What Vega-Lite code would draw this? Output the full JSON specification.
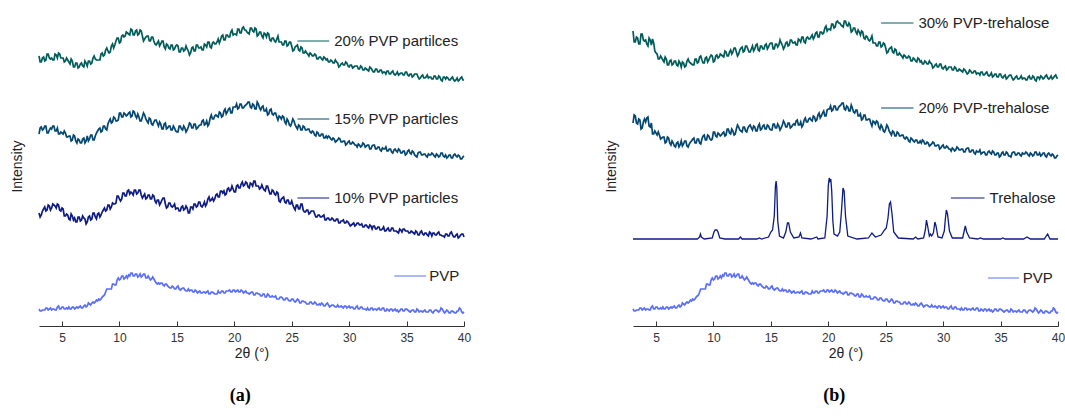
{
"$schema": "https://vega.github.io/schema/vega-lite/v6.json",
"padding": {"left": 10, "top": 6, "right": 0, "bottom": 5},
"spacing": 133,
"config": {"view": {"stroke": null}, "font": "Liberation Sans"},
"datasets": {
"amorph": [{
"x": [3,3.1,3.2,3.3,3.4,3.5,3.6,3.7,3.8,3.9,4,4.1,4.2,4.3,4.4,4.5,4.6,4.7,4.8,4.9,5,5.1,5.2,5.3,5.4,5.5,5.6,5.7,5.8,5.9,6,6.1,6.2,6.3,6.4,6.5,6.6,6.7,6.8,6.9,7,7.1,7.2,7.3,7.4,7.5,7.6,7.7,7.8,7.9,8,8.1,8.2,8.3,8.4,8.5,8.6,8.7,8.8,8.9,9,9.1,9.2,9.3,9.4,9.5,9.6,9.7,9.8,9.9,10,10.1,10.2,10.3,10.4,10.5,10.6,10.7,10.8,10.9,11,11.1,11.2,11.3,11.4,11.5,11.6,11.7,11.8,11.9,12,12.1,12.2,12.3,12.4,12.5,12.6,12.7,12.8,12.9,13,13.1,13.2,13.3,13.4,13.5,13.6,13.7,13.8,13.9,14,14.1,14.2,14.3,14.4,14.5,14.6,14.7,14.8,14.9,15,15.1,15.2,15.3,15.4,15.5,15.6,15.7,15.8,15.9,16,16.1,16.2,16.3,16.4,16.5,16.6,16.7,16.8,16.9,17,17.1,17.2,17.3,17.4,17.5,17.6,17.7,17.8,17.9,18,18.1,18.2,18.3,18.4,18.5,18.6,18.7,18.8,18.9,19,19.1,19.2,19.3,19.4,19.5,19.6,19.7,19.8,19.9,20,20.1,20.2,20.3,20.4,20.5,20.6,20.7,20.8,20.9,21,21.1,21.2,21.3,21.4,21.5,21.6,21.7,21.8,21.9,22,22.1,22.2,22.3,22.4,22.5,22.6,22.7,22.8,22.9,23,23.1,23.2,23.3,23.4,23.5,23.6,23.7,23.8,23.9,24,24.1,24.2,24.3,24.4,24.5,24.6,24.7,24.8,24.9,25,25.1,25.2,25.3,25.4,25.5,25.6,25.7,25.8,25.9,26,26.1,26.2,26.3,26.4,26.5,26.6,26.7,26.8,26.9,27,27.1,27.2,27.3,27.4,27.5,27.6,27.7,27.8,27.9,28,28.1,28.2,28.3,28.4,28.5,28.6,28.7,28.8,28.9,29,29.1,29.2,29.3,29.4,29.5,29.6,29.7,29.8,29.9,30,30.1,30.2,30.3,30.4,30.5,30.6,30.7,30.8,30.9,31,31.1,31.2,31.3,31.4,31.5,31.6,31.7,31.8,31.9,32,32.1,32.2,32.3,32.4,32.5,32.6,32.7,32.8,32.9,33,33.1,33.2,33.3,33.4,33.5,33.6,33.7,33.8,33.9,34,34.1,34.2,34.3,34.4,34.5,34.6,34.7,34.8,34.9,35,35.1,35.2,35.3,35.4,35.5,35.6,35.7,35.8,35.9,36,36.1,36.2,36.3,36.4,36.5,36.6,36.7,36.8,36.9,37,37.1,37.2,37.3,37.4,37.5,37.6,37.7,37.8,37.9,38,38.1,38.2,38.3,38.4,38.5,38.6,38.7,38.8,38.9,39,39.1,39.2,39.3,39.4,39.5,39.6,39.7,39.8,39.9,40],
"A20": [270,264,264,268,269,265,266,272,272,268,267,268,266,266,272,271,268,273,272,268,268,268,264,265,268,266,264,262,267,265,259,259,263,263,258,259,262,263,260,259,265,263,260,265,265,262,263,268,270,267,266,266,266,266,272,273,270,271,276,278,275,273,274,280,282,278,281,285,288,288,283,284,290,291,289,290,294,293,292,291,297,296,291,291,295,296,291,292,296,295,290,285,287,289,290,290,285,285,289,289,285,282,281,283,285,280,282,285,285,279,277,282,281,278,277,281,281,276,277,280,281,280,274,274,278,278,275,276,280,277,275,271,273,278,279,275,275,281,281,278,278,279,276,276,282,281,279,284,284,279,278,283,284,282,282,284,287,283,286,290,291,286,286,291,291,289,289,294,296,291,292,292,291,297,297,293,293,298,299,296,296,294,293,292,298,298,295,294,298,297,290,291,294,294,290,288,293,292,289,293,292,286,285,288,288,285,284,287,290,284,284,284,281,281,285,285,280,281,284,284,280,275,276,279,280,281,276,275,279,278,273,273,275,273,272,270,273,272,270,270,272,271,267,267,269,269,267,266,269,268,266,267,264,264,266,265,263,263,266,264,263,259,260,262,263,261,261,264,263,260,259,261,261,258,259,260,260,260,257,257,260,259,256,256,258,257,256,255,259,258,256,254,254,257,257,254,254,256,256,253,254,254,252,255,255,252,252,254,255,252,251,252,254,251,252,253,253,251,251,254,254,251,250,252,252,249,250,252,252,252,249,247,248,250,251,248,248,249,251,248,249,249,247,247,250,250,247,247,250,249,246,245,249,249,247,249,248,246,246,248,249,246,245,246,248,245,246,248,249,246,246],
"A15": [192,198,199,196,197,200,200,193,193,196,198,197,200,200,195,195,198,192,192,194,193,192,195,193,189,189,190,190,185,186,191,190,185,183,187,186,183,183,187,188,183,185,190,185,187,191,191,186,186,190,193,195,197,198,194,195,200,200,197,196,202,205,207,203,204,209,208,205,205,206,213,213,209,209,213,212,210,211,213,214,209,210,215,214,210,208,212,209,205,205,209,213,211,207,205,203,208,207,202,201,204,206,206,203,200,204,202,197,197,202,203,197,198,200,200,196,196,200,198,195,194,194,200,200,197,196,200,198,194,196,199,203,202,198,198,202,202,197,198,200,201,201,205,206,201,202,205,200,202,208,211,207,207,210,211,210,209,214,213,209,210,215,217,212,214,217,218,213,213,219,219,219,222,217,218,222,222,218,218,220,221,222,224,224,219,218,222,221,217,217,224,222,218,216,219,220,215,215,217,211,212,216,217,212,211,213,213,209,206,210,209,207,210,209,204,202,207,205,201,200,203,207,205,201,199,197,201,200,196,196,200,199,196,196,197,197,194,193,195,194,191,190,194,193,190,190,192,192,188,188,190,188,190,189,187,186,188,187,184,185,186,188,187,184,184,185,185,181,182,184,185,182,182,184,183,181,181,179,182,181,179,180,183,182,179,180,181,181,177,177,180,181,181,177,177,179,179,176,175,178,177,177,179,175,175,177,177,174,173,176,177,175,174,177,176,173,173,175,175,171,172,175,176,173,172,175,174,171,170,169,173,174,174,171,171,172,172,170,169,172,171,171,173,172,170,169,172,171,169,170,173,173,170,169,171,168,169,171,171,168,168,171,172,170,169,171,170,167,167,169,170],
"A10": [113,109,111,115,117,119,115,116,121,120,116,118,122,121,120,118,122,121,116,115,118,117,110,110,112,111,107,106,112,110,106,108,104,104,109,109,105,106,110,108,107,102,104,109,110,106,107,113,113,109,107,112,113,109,111,114,116,118,115,116,121,121,117,119,123,122,122,123,130,130,127,125,127,133,133,130,130,135,136,132,134,133,131,136,136,132,133,136,136,131,128,130,132,127,128,131,131,127,127,131,130,125,123,126,126,121,123,126,128,128,122,118,119,123,123,120,119,120,122,117,118,118,115,115,119,120,116,117,120,118,113,113,119,119,117,122,122,119,120,124,124,120,119,121,124,120,122,127,129,125,126,128,125,127,131,132,129,129,135,135,133,135,131,132,137,138,135,136,140,137,134,134,140,141,138,138,142,144,140,141,144,143,139,138,143,142,140,145,145,140,140,140,137,138,141,138,136,135,140,140,136,132,132,136,135,132,131,134,133,125,124,127,128,129,124,123,126,126,122,122,125,121,118,116,121,121,117,117,122,122,116,114,114,116,116,112,113,115,115,115,112,109,109,111,111,109,109,110,111,106,106,108,108,106,106,108,107,105,105,107,107,103,103,105,105,106,103,103,105,104,102,100,101,102,103,100,101,103,103,101,101,102,99,99,101,101,99,98,101,100,97,100,100,97,97,99,99,96,96,97,99,95,95,97,98,95,95,98,98,95,95,95,94,93,97,96,94,97,97,95,95,95,93,93,95,94,93,92,95,94,91,91,94,95,92,91,93,93,91,90,94,93,90,93,93,91,91,93,94,91,91,90,90,89,92,92,90,90,93,94,91,89,89,91,92,88,89,91,92,92,89],
"PVP": [17,15,15,16,16,16,18,18,16,17,18,16,17,17,16,16,19,20,17,17,19,19,17,17,18,17,19,17,17,19,19,17,18,19,18,19,20,18,18,20,21,19,20,23,22,21,23,24,23,24,26,25,27,26,27,29,30,31,34,37,37,37,37,37,42,42,41,41,46,48,46,47,50,50,47,48,50,48,51,50,53,53,50,50,52,52,49,50,52,49,50,52,52,48,48,50,48,46,47,49,47,45,43,42,43,42,43,43,41,40,42,42,40,39,38,38,40,39,37,37,39,40,37,36,37,38,38,36,35,35,37,35,36,36,34,34,36,35,33,34,35,33,33,34,34,33,34,35,32,32,34,34,33,32,32,32,35,33,33,35,35,33,33,35,35,35,36,34,34,36,36,34,35,36,34,34,36,35,33,34,35,33,33,32,33,34,34,31,31,33,33,32,32,30,30,32,32,29,29,32,31,29,29,30,29,29,30,27,27,27,29,29,28,26,26,28,28,26,25,25,27,27,25,24,25,27,26,23,23,25,25,24,24,22,22,22,24,24,22,22,24,23,21,21,22,21,23,22,20,20,22,23,21,19,20,21,21,20,19,19,21,19,19,20,19,18,20,20,18,19,20,18,19,19,17,17,19,20,17,17,19,19,17,17,17,16,18,16,16,18,18,16,17,17,16,17,18,16,16,18,18,15,15,17,16,15,17,17,15,16,17,15,16,14,15,17,17,15,15,17,17,16,15,14,15,16,16,14,14,17,16,14,15,15,14,15,16,14,14,14,16,16,14,13,15,16,16,15,14,15,18,17,15,13,14,16,15,13,13,15,15,14,13,13,15,15,18,17,14,13,14],
"B30": [295,284,284,289,288,282,282,292,292,286,285,286,282,280,288,286,281,287,283,275,273,272,267,267,270,268,266,264,269,267,261,261,265,266,261,262,265,265,261,260,265,263,259,264,263,259,260,265,267,264,263,262,261,261,267,267,263,264,269,270,266,263,263,268,269,264,266,269,271,270,264,265,270,271,268,269,272,271,270,269,275,274,270,270,274,276,272,274,278,278,274,270,272,276,278,279,274,275,280,280,277,274,274,277,280,275,277,281,282,276,275,280,280,277,277,281,282,277,279,282,283,283,277,277,282,282,279,281,286,283,281,277,279,283,284,280,281,286,286,283,283,284,281,281,287,286,284,289,289,284,283,288,289,287,287,289,291,287,289,293,294,289,289,294,294,292,293,298,300,295,297,297,296,302,302,298,299,304,305,303,303,301,300,299,305,305,301,300,303,301,294,295,298,298,294,292,296,294,291,295,294,288,287,290,289,286,285,287,290,283,283,283,280,280,284,284,279,280,283,282,278,273,274,277,278,279,274,273,277,276,271,271,273,271,270,268,271,270,268,268,270,269,265,265,268,267,265,264,268,267,264,265,262,262,265,264,262,262,265,263,262,258,259,261,262,259,259,262,262,258,257,259,260,256,257,259,259,259,256,256,259,258,255,255,257,256,255,254,257,256,254,252,253,256,255,253,253,255,255,252,253,253,251,254,254,251,251,253,254,251,250,251,253,249,250,252,252,249,249,252,252,249,248,250,251,247,248,250,251,251,248,246,247,249,250,247,247,248,250,247,248,248,246,246,249,250,247,247,250,249,246,245,249,249,247,250,249,247,248,250,251,248,247,248,250,247,248,250,251,248,248],
"B20": [203,211,210,203,202,207,206,197,198,204,207,204,208,209,200,199,203,192,192,195,193,191,194,191,187,188,189,189,183,184,189,188,183,181,185,183,180,179,183,184,179,181,185,180,182,185,185,180,179,182,184,185,187,188,183,183,187,187,183,182,187,190,191,186,186,191,190,187,186,187,194,194,190,189,193,192,190,191,193,194,190,191,197,197,193,192,197,195,191,192,197,201,199,196,195,194,199,199,195,194,198,200,201,198,196,200,199,195,195,200,202,196,197,200,201,197,197,201,200,197,196,196,202,202,198,198,202,200,196,198,201,205,203,199,199,203,203,198,199,201,202,201,205,206,201,201,204,199,201,206,208,204,204,207,208,206,205,210,209,205,206,211,213,208,210,213,215,210,210,216,217,217,220,215,216,220,220,216,216,219,220,221,223,223,217,216,220,219,215,215,221,218,214,213,216,216,210,210,212,206,207,211,211,206,206,207,207,203,200,205,204,202,205,204,199,197,201,199,195,194,197,201,199,195,193,191,195,194,190,190,194,193,190,190,191,191,188,187,189,188,185,184,188,187,185,184,186,186,183,183,185,183,186,185,182,182,184,183,180,181,182,184,183,180,180,181,181,177,178,180,181,178,178,180,179,177,177,175,178,177,175,176,179,178,176,176,177,177,174,174,177,178,178,174,174,176,176,173,172,175,174,174,176,172,173,174,174,171,171,174,175,173,172,175,174,171,171,173,173,169,170,173,174,171,171,174,173,170,170,169,173,174,174,171,171,173,173,171,170,173,172,172,174,173,171,170,173,172,170,171,174,174,171,171,173,170,171,173,173,170,169,172,173,171,170,172,171,168,168,170,171]
}],
"treh": [{
"series": "Treh",
"x": [3,5,7,8.6,8.8,8.87,8.95,9.2,9.9,10.05,10.15,10.3,10.4,10.55,11,12.2,12.35,12.5,13.8,14,14.2,14.8,15,15.15,15.3,15.4,15.46,15.52,15.6,15.75,16.1,16.3,16.45,16.55,16.7,17,17.45,17.58,17.7,18.5,19,19.1,19.7,19.9,20,20.08,20.15,20.22,20.3,20.4,20.5,20.8,21,21.15,21.28,21.38,21.5,21.7,22.5,23.5,23.8,24.1,24.6,24.9,25.05,25.2,25.32,25.42,25.55,25.7,25.9,26.1,27.4,27.6,27.8,28.3,28.45,28.55,28.65,28.8,28.9,29,29.15,29.28,29.38,29.55,29.9,30.1,30.2,30.28,30.38,30.55,30.8,31.7,31.85,31.93,32.05,32.3,33,33.25,33.5,35,35.2,35.4,37,37.3,37.6,38.8,39.1,39.3,40],
"y": [87,87,87,87,89,92,89,87,88,94,96,96,94,88,87,87,89,87,87,88,87,89,94,96,110,140,145,138,105,90,88,94,103,103,94,88,89,93,88,87,89,87,88,110,140,148,145,147,135,105,92,90,94,115,138,135,110,90,87,88,93,89,91,96,98,108,122,124,112,94,91,88,87,89,87,88,96,106,100,90,92,90,93,104,100,89,88,95,108,116,112,95,88,88,96,100,94,88,87,88,87,87,88,87,87,89,87,87,92,87,87]
}],
"labels": [
{"panel": "a", "series": "A20", "label": "20% PVP partilces", "x": 25.5, "x2": 28.27, "tx": 28.7, "y": 285},
{"panel": "a", "series": "A15", "label": "15% PVP particles", "x": 25.5, "x2": 28.27, "tx": 28.7, "y": 207},
{"panel": "a", "series": "A10", "label": "10% PVP particles", "x": 25.5, "x2": 28.27, "tx": 28.7, "y": 128},
{"panel": "a", "series": "PVP", "label": "PVP", "x": 33.93, "x2": 36.7, "tx": 36.97, "y": 50},
{"panel": "b", "series": "B30", "label": "30% PVP-trehalose", "x": 24.6, "x2": 27.42, "tx": 27.85, "y": 303},
{"panel": "b", "series": "B20", "label": "20% PVP-trehalose", "x": 24.6, "x2": 27.42, "tx": 27.85, "y": 218},
{"panel": "b", "series": "Treh", "label": "Trehalose", "x": 30.68, "x2": 33.6, "tx": 34.04, "y": 128},
{"panel": "b", "series": "PVP", "label": "PVP", "x": 33.9, "x2": 36.6, "tx": 36.94, "y": 48}
]
},
"hconcat": [
{
"width": 425, "height": 320,
"title": {"text": "(a)", "orient": "bottom", "anchor": "middle", "frame": "bounds", "font": "Liberation Serif", "fontSize": 18, "fontWeight": "bold", "color": "#000", "offset": 27},
"layer": [
{
"data": {"name": "amorph"},
"transform": [{"flatten": ["x", "A20", "A15", "A10", "PVP"]}, {"fold": ["A20", "A15", "A10", "PVP"], "as": ["series", "y"]}],
"mark": {"type": "line", "strokeWidth": 1.7},
"encoding": {
"x": {"field": "x", "type": "quantitative", "title": "2θ (°)", "scale": {"domain": [3, 40], "nice": false, "zero": false},
"axis": {"values": [5,7.5,10,12.5,15,17.5,20,22.5,25,27.5,30,32.5,35,37.5,40], "format": "d", "labelExpr": "datum.value % 5 === 0 ? datum.label : ''", "tickSize": {"condition": {"test": "datum.value % 5 === 0", "value": -5}, "value": -3}, "labelPadding": 11, "grid": false, "domainColor": "#333", "tickColor": "#333", "labelFontSize": 12, "labelColor": "#333", "labelFont": "Liberation Sans", "titleFont": "Liberation Sans", "titleFontSize": 14, "titleFontWeight": "normal", "titleColor": "#222", "titlePadding": 3, "labelOverlap": false, "labelFlush": false}},
"y": {"field": "y", "type": "quantitative", "title": "Intensity", "scale": {"domain": [0, 320], "nice": false, "zero": false},
"axis": {"labels": false, "ticks": false, "domain": false, "grid": false, "titleFont": "Liberation Sans", "titleFontSize": 14, "titleFontWeight": "normal", "titleColor": "#222", "titlePadding": 15}},
"color": {"field": "series", "type": "nominal", "legend": null, "scale": {"domain": ["A20","A15","A10","PVP","B30","B20","Treh"], "range": ["#005c5a","#034670","#0d1b82","#5a6ef8","#005c5a","#034670","#0d1b82"]}}
}
},
{
"data": {"name": "labels"},
"transform": [{"filter": "datum.panel === 'a'"}],
"mark": {"type": "rule", "strokeWidth": 1},
"encoding": {
"x": {"field": "x", "type": "quantitative", "title": "2θ (°)"},
"x2": {"field": "x2"},
"y": {"field": "y", "type": "quantitative", "title": "Intensity"},
"color": {"field": "series", "type": "nominal", "legend": null}
}
},
{
"data": {"name": "labels"},
"transform": [{"filter": "datum.panel === 'a'"}],
"mark": {"type": "text", "align": "left", "baseline": "middle", "fontSize": 15, "font": "Liberation Sans", "color": "#222"},
"encoding": {
"x": {"field": "tx", "type": "quantitative", "title": "2θ (°)"},
"y": {"field": "y", "type": "quantitative", "title": "Intensity"},
"text": {"field": "label"}
}
}
]
},
{
"width": 425, "height": 320,
"title": {"text": "(b)", "orient": "bottom", "anchor": "middle", "frame": "bounds", "font": "Liberation Serif", "fontSize": 18, "fontWeight": "bold", "color": "#000", "offset": 27},
"layer": [
{
"data": {"name": "amorph"},
"transform": [{"flatten": ["x", "B30", "B20", "PVP"]}, {"fold": ["B30", "B20", "PVP"], "as": ["series", "y"]}],
"mark": {"type": "line", "strokeWidth": 1.7},
"encoding": {
"x": {"field": "x", "type": "quantitative", "title": "2θ (°)", "scale": {"domain": [3, 40], "nice": false, "zero": false},
"axis": {"values": [5,7.5,10,12.5,15,17.5,20,22.5,25,27.5,30,32.5,35,37.5,40], "format": "d", "labelExpr": "datum.value % 5 === 0 ? datum.label : ''", "tickSize": {"condition": {"test": "datum.value % 5 === 0", "value": -5}, "value": -3}, "labelPadding": 11, "grid": false, "domainColor": "#333", "tickColor": "#333", "labelFontSize": 12, "labelColor": "#333", "labelFont": "Liberation Sans", "titleFont": "Liberation Sans", "titleFontSize": 14, "titleFontWeight": "normal", "titleColor": "#222", "titlePadding": 3, "labelOverlap": false, "labelFlush": false}},
"y": {"field": "y", "type": "quantitative", "title": "Intensity", "scale": {"domain": [0, 320], "nice": false, "zero": false},
"axis": {"labels": false, "ticks": false, "domain": false, "grid": false, "titleFont": "Liberation Sans", "titleFontSize": 14, "titleFontWeight": "normal", "titleColor": "#222", "titlePadding": 15}},
"color": {"field": "series", "type": "nominal", "legend": null, "scale": {"domain": ["A20","A15","A10","PVP","B30","B20","Treh"], "range": ["#005c5a","#034670","#0d1b82","#5a6ef8","#005c5a","#034670","#0d1b82"]}}
}
},
{
"data": {"name": "treh"},
"transform": [{"flatten": ["x", "y"]}],
"mark": {"type": "line", "strokeWidth": 1.3},
"encoding": {
"x": {"field": "x", "type": "quantitative", "title": "2θ (°)"},
"y": {"field": "y", "type": "quantitative", "title": "Intensity"},
"color": {"field": "series", "type": "nominal", "legend": null}
}
},
{
"data": {"name": "labels"},
"transform": [{"filter": "datum.panel === 'b'"}],
"mark": {"type": "rule", "strokeWidth": 1},
"encoding": {
"x": {"field": "x", "type": "quantitative", "title": "2θ (°)"},
"x2": {"field": "x2"},
"y": {"field": "y", "type": "quantitative", "title": "Intensity"},
"color": {"field": "series", "type": "nominal", "legend": null}
}
},
{
"data": {"name": "labels"},
"transform": [{"filter": "datum.panel === 'b'"}],
"mark": {"type": "text", "align": "left", "baseline": "middle", "fontSize": 15, "font": "Liberation Sans", "color": "#222"},
"encoding": {
"x": {"field": "tx", "type": "quantitative", "title": "2θ (°)"},
"y": {"field": "y", "type": "quantitative", "title": "Intensity"},
"text": {"field": "label"}
}
}
]
}
]
}
